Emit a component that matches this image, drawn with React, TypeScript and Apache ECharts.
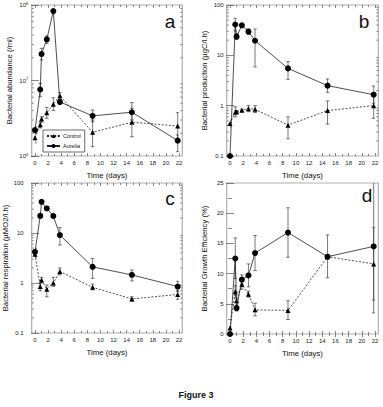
import React, { useEffect, useRef } from 'react';
import * as echarts from 'echarts';

const FONT = '"Liberation Sans", Arial, Helvetica, sans-serif';

// Sampling days
const days = [0, 0.8, 1.0, 1.8, 2.8, 3.8, 8.8, 14.8, 21.8];

// a: Bacterial abundance (/ml)
const abundAurelia = [2.2e6, 7.6e6, 2.24e7, 3.5e7, 8.3e7, 5.2e6, 3.4e6, 3.8e6, 1.6e6];
const abundAureliaLo = [2.0e6, 6.1e6, 1.87e7, 3.1e7, 8.3e7, 4.8e6, 2.84e6, 3.0e6, 1.14e6];
const abundAureliaHi = [2.44e6, 9.2e6, 2.67e7, 3.9e7, 8.3e7, 5.6e6, 4.06e6, 5.1e6, 1.9e6];
const abundControl = [1.75e6, 2.6e6, 3.1e6, 3.75e6, 4.85e6, 6.3e6, 2.06e6, 2.8e6, 2.5e6];
const abundControlLo = [1.5e6, 2.35e6, 2.8e6, 3.16e6, 4.0e6, 5.7e6, 1.33e6, 1.8e6, 1.71e6];
const abundControlHi = [2.0e6, 2.8e6, 3.3e6, 4.4e6, 5.9e6, 6.9e6, 3.0e6, 4.3e6, 3.75e6];

// b: Bacterial production (µgC/l.h)
const prodAurelia = [0.1, 41, 23.5, 39.5, 29.5, 19.5, 5.5, 2.5, 1.65];
const prodAureliaLo = [0.1, 30.4, 20.8, 36, 26, 5.9, 3.34, 1.84, 1.11];
const prodAureliaHi = [0.1, 54.4, 27.3, 43, 33.7, 33.4, 7.5, 3.39, 2.46];
const prodControl = [0.44, 0.74, 0.76, 0.81, 0.87, 0.85, 0.41, 0.8, 1.0];
const prodControlLo = [0.38, 0.6, 0.72, 0.77, 0.76, 0.73, 0.22, 0.43, 0.56];
const prodControlHi = [0.52, 0.95, 0.8, 0.85, 1.0, 1.0, 0.6, 1.24, 1.56];

// c: Bacterial respiration (µMO2/l.h)
const respAurelia = [4.2, 22, 42, 31, 21.9, 9.1, 2.1, 1.45, 0.85];
const respAureliaLo = [3.36, 20, 40, 29, 20, 5.75, 1.24, 1.1, 0.68];
const respAureliaHi = [4.93, 24, 44, 33, 24, 12.8, 3.1, 1.82, 1.08];
const respControl = [3.75, 0.85, 1.15, 0.75, 1.0, 1.7, 0.82, 0.48, 0.59];
const respControlLo = [3.2, 0.7, 1.0, 0.53, 0.85, 1.45, 0.73, 0.43, 0.47];
const respControlHi = [4.4, 1.0, 1.3, 0.91, 1.3, 2.0, 0.95, 0.53, 0.7];

// d: Bacterial Growth Efficiency (%)
const bgeAurelia = [0, 12.5, 4.3, 9.0, 9.7, 13.4, 16.8, 12.8, 14.5];
const bgeAureliaLo = [0, 9.2, 3.8, 8.2, 7.8, 10.5, 12.7, 9.3, 3.5];
const bgeAureliaHi = [0, 15.9, 4.8, 9.8, 11.6, 16.3, 20.9, 16.4, 25.5];
const bgeControl = [1.0, 7.0, 5.5, 8.2, 6.6, 4.0, 3.9, 12.8, 11.6];
const bgeControlLo = [0.8, 6.0, 4.0, 7.4, 6.1, 3.0, 2.4, 12.8, 5.6];
const bgeControlHi = [1.2, 8.0, 7.0, 9.0, 7.1, 5.1, 5.5, 12.8, 17.6];

const xTicks = { min: 0, max: 22, interval: 2 };
const panelLetters = ['a', 'b', 'c', 'd'];
const yNames = [
  'Bacterial abundance (/ml)',
  'Bacterial production (µgC/l.h)',
  'Bacterial respiration (µMO2/l.h)',
  'Bacterial Growth Efficiency (%)',
];

const PAD = 3.3;
const TICK = '#555';

function App() {
  const ref = useRef<HTMLDivElement>(null);
  useEffect(() => {
    if (!ref.current) return;
    const chart = echarts.init(ref.current, undefined, { renderer: 'svg' });

    const grids = [
      { left: 35, top: 5, width: 144, height: 151 },
      { left: 230, top: 5, width: 145, height: 151 },
      { left: 35, top: 183, width: 144, height: 150 },
      { left: 230, top: 183, width: 145, height: 151 },
    ];

    const panels = [
      { log: true, min: 1e6, max: 1e8, a: abundAurelia, aLo: abundAureliaLo, aHi: abundAureliaHi, c: abundControl, cLo: abundControlLo, cHi: abundControlHi, labelMargin: 3.5, sup: true },
      { log: true, min: 0.1, max: 100, a: prodAurelia, aLo: prodAureliaLo, aHi: prodAureliaHi, c: prodControl, cLo: prodControlLo, cHi: prodControlHi, labelMargin: 3, sup: false },
      { log: true, min: 0.1, max: 100, a: respAurelia, aLo: respAureliaLo, aHi: respAureliaHi, c: respControl, cLo: respControlLo, cHi: respControlHi, labelMargin: 8, sup: false },
      { log: false, min: 0, max: 25, a: bgeAurelia, aLo: bgeAureliaLo, aHi: bgeAureliaHi, c: bgeControl, cLo: bgeControlLo, cHi: bgeControlHi, labelMargin: 3, sup: false },
    ];

    const tickStyle = { color: TICK, width: 0.7 };
    const xAxis: any[] = [];
    const yAxis: any[] = [];
    const series: any[] = [];

    const errRender = (params: any, api: any) => {
      const x = api.value(0);
      const lo = api.coord([x, api.value(1)]);
      const hi = api.coord([x, api.value(2)]);
      if (Math.abs(hi[1] - lo[1]) < 1) return null;
      const w = 1.8;
      const st = { stroke: '#222', lineWidth: 0.6 };
      return {
        type: 'group',
        children: [
          { type: 'line', shape: { x1: lo[0], y1: lo[1], x2: hi[0], y2: hi[1] }, style: st },
          { type: 'line', shape: { x1: hi[0] - w, y1: hi[1], x2: hi[0] + w, y2: hi[1] }, style: st },
          { type: 'line', shape: { x1: lo[0] - w, y1: lo[1], x2: lo[0] + w, y2: lo[1] }, style: st },
        ],
      };
    };

    const minorRender = (params: any, api: any) => {
      const cs = params.coordSys;
      const y = api.coord([0, api.value(1)])[1];
      const l = cs.x - PAD;
      const r = cs.x + cs.width + PAD;
      const st = { stroke: TICK, lineWidth: 0.7 };
      return {
        type: 'group',
        children: [
          { type: 'line', shape: { x1: l, y1: y, x2: l + 2, y2: y }, style: st },
          { type: 'line', shape: { x1: r - 2, y1: y, x2: r, y2: y }, style: st },
        ],
      };
    };

    panels.forEach((p, i) => {
      const xi = xAxis.length;
      const common = {
        type: 'value', gridIndex: i, min: xTicks.min, max: xTicks.max, interval: xTicks.interval,
        axisLine: { show: false },
        axisTick: { inside: true, length: 3, lineStyle: tickStyle },
        minorTick: { show: true, splitNumber: 2, length: 2, lineStyle: tickStyle },
        splitLine: { show: false },
      };
      xAxis.push({
        ...common, position: 'bottom',
        axisLabel: { fontSize: 6, margin: 4, color: '#222', fontFamily: FONT },
        name: 'Time (days)', nameLocation: 'middle', nameGap: 15,
        nameTextStyle: { fontSize: 7.8, color: '#111', fontFamily: FONT },
      });
      xAxis.push({ ...common, position: 'top', axisLabel: { show: false } });

      const yi = yAxis.length;
      const yCommon: any = p.log
        ? { type: 'log', logBase: 10, min: p.min, max: p.max }
        : { type: 'value', min: p.min, max: p.max, interval: 5, minorTick: { show: true, splitNumber: 2, length: 2, lineStyle: tickStyle } };
      const labelFmt = p.sup
        ? (v: number) => '10{s|' + Math.round(Math.log10(v)) + '}'
        : p.log
          ? (v: number) => (v >= 1 ? String(Math.round(v)) : v.toFixed(1))
          : (v: number) => String(v);
      yAxis.push({
        ...yCommon, gridIndex: i, position: 'left', offset: PAD,
        axisLine: { show: false },
        axisTick: { inside: true, length: 4, lineStyle: tickStyle },
        splitLine: { show: false },
        axisLabel: {
          fontSize: 6, margin: p.labelMargin, color: '#222', fontFamily: FONT, formatter: labelFmt,
          rich: { s: { fontSize: 4, verticalAlign: 'top', padding: [0, 0, 4, 0], fontFamily: FONT, color: '#222' } },
        },
        name: yNames[i], nameLocation: 'middle', nameGap: p.labelMargin > 5 ? 19 : 18,
        nameTextStyle: { fontSize: 7.7, color: '#111', fontFamily: FONT },
      });
      yAxis.push({
        ...yCommon, gridIndex: i, position: 'right', offset: PAD,
        axisLine: { show: false },
        axisTick: { inside: true, length: 4, lineStyle: tickStyle },
        splitLine: { show: false },
        axisLabel: { show: false },
      });

      const toPts = (vals: number[]) => days.map((d, k) => [d, vals[k]]);
      const toErr = (lo: number[], hi: number[]) => days.map((d, k) => [d, lo[k], hi[k]]);

      series.push({
        type: 'custom', xAxisIndex: xi, yAxisIndex: yi, renderItem: errRender, clip: true, silent: true, z: 1,
        data: toErr(p.cLo, p.cHi), encode: { x: 0, y: [1, 2] },
      });
      series.push({
        type: 'custom', xAxisIndex: xi, yAxisIndex: yi, renderItem: errRender, clip: true, silent: true, z: 1,
        data: toErr(p.aLo, p.aHi), encode: { x: 0, y: [1, 2] },
      });
      series.push({
        name: 'Control', type: 'line', xAxisIndex: xi, yAxisIndex: yi, data: toPts(p.c),
        symbol: 'triangle', symbolSize: 5, showAllSymbol: true, z: 3,
        lineStyle: { color: '#222', width: 0.8, type: [2, 1.6] },
        itemStyle: { color: '#000' },
      });
      series.push({
        name: 'Aurelia', type: 'line', xAxisIndex: xi, yAxisIndex: yi, data: toPts(p.a),
        symbol: 'circle', symbolSize: 6, showAllSymbol: true, z: 4,
        lineStyle: { color: '#222', width: 0.8 },
        itemStyle: { color: '#000' },
      });
      if (p.log) {
        const minor: number[][] = [];
        for (let e = Math.round(Math.log10(p.min)); e < Math.round(Math.log10(p.max)); e++) {
          for (let m = 2; m <= 9; m++) minor.push([0, m * Math.pow(10, e)]);
        }
        series.push({
          type: 'custom', xAxisIndex: xi, yAxisIndex: yi, renderItem: minorRender, silent: true, z: 0,
          data: minor, encode: { x: 0, y: 1 },
        });
      }
    });

    const graphic: any[] = [];
    grids.forEach((g, i) => {
      graphic.push({
        type: 'rect', silent: true, z: 0,
        shape: { x: g.left - PAD, y: g.top, width: g.width + 2 * PAD, height: g.height },
        style: { fill: 'none', stroke: '#b0b0b0', lineWidth: 1.2 },
      });
    });
    const letterPos = [[170, 21], [364, 21], [170, 198], [367, 195]];
    panelLetters.forEach((t, i) => {
      graphic.push({
        type: 'text', x: letterPos[i][0], y: letterPos[i][1],
        style: { text: t, fontSize: 19, fontFamily: FONT, fill: '#111', align: 'center', verticalAlign: 'middle' },
      });
    });
    graphic.push({
      type: 'text', x: 196, y: 395,
      style: { text: 'Figure 3', fontSize: 9, fontWeight: 'bold', fontFamily: FONT, fill: '#111', align: 'center', verticalAlign: 'middle' },
    });

    chart.setOption({
      animation: false,
      backgroundColor: '#fff',
      grid: grids.map((g) => ({ ...g, containLabel: false })),
      xAxis,
      yAxis,
      series,
      graphic,
      legend: {
        data: ['Control', 'Aurelia'],
        orient: 'vertical', left: 43, top: 130,
        itemWidth: 13, itemHeight: 5, itemGap: 4,
        padding: [3, 4, 3, 3],
        borderColor: '#444', borderWidth: 0.8,
        textStyle: { fontSize: 5.5, fontFamily: FONT, color: '#111', padding: [0, 0, 0, -2] },
        selectedMode: false,
      },
    });
    return () => chart.dispose();
  }, []);
  return <div ref={ref} style={{ position: 'fixed', left: 0, top: 0, width: 383, height: 407, background: '#fff' }} />;
}

export default App;
